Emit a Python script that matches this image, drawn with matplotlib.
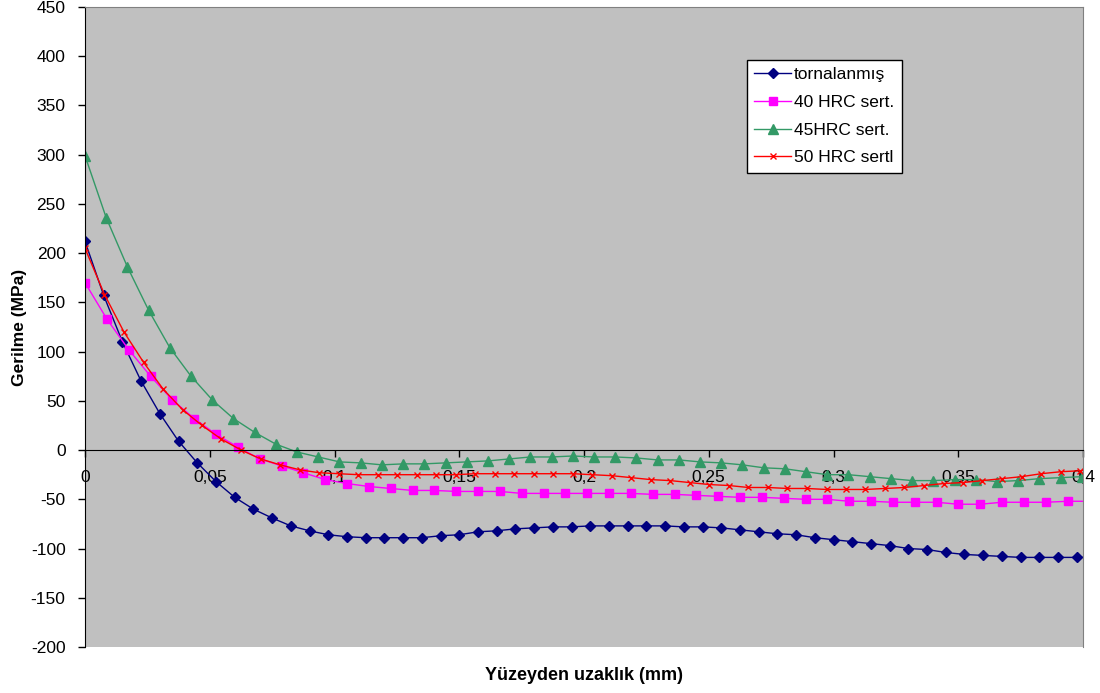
import matplotlib
matplotlib.use("Agg")
import matplotlib.pyplot as plt

# depth (mm) and stress (MPa)
x_torna = [0, 0.0075, 0.015, 0.0225, 0.03, 0.0375, 0.045, 0.0525, 0.06, 0.0675,
           0.075, 0.0825, 0.09, 0.0975, 0.105, 0.1125, 0.12, 0.1275, 0.135, 0.1425,
           0.15, 0.1575, 0.165, 0.1725, 0.18, 0.1875, 0.195, 0.2025, 0.21, 0.2175,
           0.225, 0.2325, 0.24, 0.2475, 0.255, 0.2625, 0.27, 0.2775, 0.285, 0.2925,
           0.3, 0.3075, 0.315, 0.3225, 0.33, 0.3375, 0.345, 0.3525, 0.36, 0.3675,
           0.375, 0.3825, 0.39, 0.3975, 0.405]
y_torna = [212, 157, 110, 70, 37, 9, -13, -32, -48, -60,
           -69, -77, -82, -86, -88, -89, -89, -89, -89, -87,
           -86, -83, -82, -80, -79, -78, -78, -77, -77, -77,
           -77, -77, -78, -78, -79, -81, -83, -85, -86, -89,
           -91, -93, -95, -97, -100, -101, -104, -106, -107, -108,
           -109, -109, -109, -109, -109]

x_40 = [0, 0.0088, 0.0175, 0.0263, 0.035, 0.0438, 0.0525, 0.0613, 0.07, 0.0788,
        0.0875, 0.0963, 0.105, 0.1138, 0.1225, 0.1313, 0.14, 0.1488, 0.1575, 0.1663,
        0.175, 0.1838, 0.1925, 0.2013, 0.21, 0.2188, 0.2275, 0.2363, 0.245, 0.2538,
        0.2625, 0.2713, 0.28, 0.2888, 0.2975, 0.3063, 0.315, 0.3238, 0.3325, 0.3413,
        0.35, 0.3588, 0.3675, 0.3763, 0.385, 0.3938, 0.4025]
y_40 = [170, 133, 102, 75, 51, 32, 16, 3, -9, -16,
        -23, -30, -34, -37, -39, -41, -41, -42, -42, -42,
        -44, -44, -44, -44, -44, -44, -45, -45, -46, -47,
        -48, -48, -49, -50, -50, -52, -52, -53, -53, -53,
        -55, -55, -53, -53, -53, -52, -52]

x_45 = [0, 0.0085, 0.017, 0.0255, 0.034, 0.0425, 0.051, 0.0595, 0.068, 0.0765,
        0.085, 0.0935, 0.102, 0.1105, 0.119, 0.1275, 0.136, 0.1445, 0.153, 0.1615,
        0.17, 0.1785, 0.187, 0.1955, 0.204, 0.2125, 0.221, 0.2295, 0.238, 0.2465,
        0.255, 0.2635, 0.272, 0.2805, 0.289, 0.2975, 0.306, 0.3145, 0.323, 0.3315,
        0.34, 0.3485, 0.357, 0.3655, 0.374, 0.3825, 0.391, 0.3995, 0.408]
y_45 = [299, 236, 186, 142, 104, 75, 51, 32, 18, 6,
        -2, -7, -12, -13, -15, -14, -14, -13, -12, -11,
        -9, -7, -7, -6, -7, -7, -8, -10, -10, -12,
        -13, -15, -18, -19, -22, -25, -25, -27, -29, -31,
        -31, -30, -30, -32, -31, -29, -28, -27, -26]

x_50 = [0, 0.0078, 0.0156, 0.0235, 0.0313, 0.0391, 0.0469, 0.0547, 0.0626, 0.0704,
        0.0782, 0.086, 0.0938, 0.1017, 0.1095, 0.1173, 0.1251, 0.1329, 0.1408, 0.1486,
        0.1564, 0.1642, 0.172, 0.1799, 0.1877, 0.1955, 0.2033, 0.2111, 0.219, 0.2268,
        0.2346, 0.2424, 0.2502, 0.2581, 0.2659, 0.2737, 0.2815, 0.2893, 0.2972, 0.305,
        0.3128, 0.3206, 0.3284, 0.3363, 0.3441, 0.3519, 0.3597, 0.3675, 0.3754, 0.3832,
        0.391, 0.3988, 0.4066]
y_50 = [205, 158, 120, 89, 62, 41, 25, 11, 0, -9,
        -15, -20, -23, -24, -25, -25, -25, -25, -25, -25,
        -24, -24, -24, -24, -24, -24, -25, -26, -28, -30,
        -31, -33, -35, -36, -38, -38, -39, -39, -40, -40,
        -40, -39, -38, -36, -34, -33, -31, -29, -27, -24,
        -22, -21, -19]

labels = ["tornalanmış", "40 HRC sert.", "45HRC sert.", "50 HRC sertl"]
xticks = [0, 0.05, 0.1, 0.15, 0.2, 0.25, 0.3, 0.35, 0.4]
xtick_labels = ["0", "0,05", "0,1", "0,15", "0,2", "0,25", "0,3", "0,35", "0,4"]

plt.rcParams["font.family"] = ["Liberation Sans", "DejaVu Sans"]
plt.rcParams["axes.unicode_minus"] = False

fig = plt.figure(figsize=(11, 6.93), dpi=100)
W, H = 1100, 693
ax = fig.add_axes([85 / W, 1 - 647 / H, (1083 - 85) / W, (647 - 7) / H])
ax.set_facecolor("#C0C0C0")

ax.plot(x_torna, y_torna, color="#000080", lw=1, marker="D", ms=5.5, label=labels[0])
ax.plot(x_40, y_40, color="#FF00FF", lw=1, marker="s", ms=6, label=labels[1])
ax.plot(x_45, y_45, color="#339966", lw=1, marker="^", ms=7.5, label=labels[2])
ax.plot(x_50, y_50, color="#FF0000", lw=1, marker="x", ms=5, mew=1, label=labels[3])

ax.set_xlim(0, 0.4)
ax.set_ylim(-200, 450)
ax.set_yticks(range(-200, 451, 50))
ax.set_xticks(xticks)
ax.set_xticklabels(xtick_labels)

# x axis crosses at y = 0
ax.spines["bottom"].set_position(("data", 0))
ax.spines["bottom"].set_color("black")
ax.spines["left"].set_color("black")
for s in ["top", "right"]:
    ax.spines[s].set_color("#808080")
    ax.spines[s].set_linewidth(0.8)

ax.tick_params(axis="y", direction="out", length=5, width=1, pad=9, labelsize=12.5)
ax.tick_params(axis="x", direction="out", length=5, width=1, pad=9, labelsize=12.5)

fig.text(20 / W, 1 - 327 / H, "Gerilme (MPa)", rotation=90, fontsize=12.5,
         fontweight="bold", ha="center", va="center")
fig.text(584 / W, 1 - 676 / H, "Yüzeyden uzaklık (mm)", fontsize=13,
         fontweight="bold", ha="center", va="center")

leg = ax.legend(loc="upper left", bbox_to_anchor=(747 / W, 1 - 60 / H),
                bbox_transform=fig.transFigure, fontsize=12.5, frameon=True,
                fancybox=False, framealpha=1, edgecolor="black",
                handlelength=2.1, handletextpad=0.2, labelspacing=0.72,
                borderpad=0.42, borderaxespad=0)
leg.get_frame().set_linewidth(1)

fig.savefig("out.png", dpi=100)
